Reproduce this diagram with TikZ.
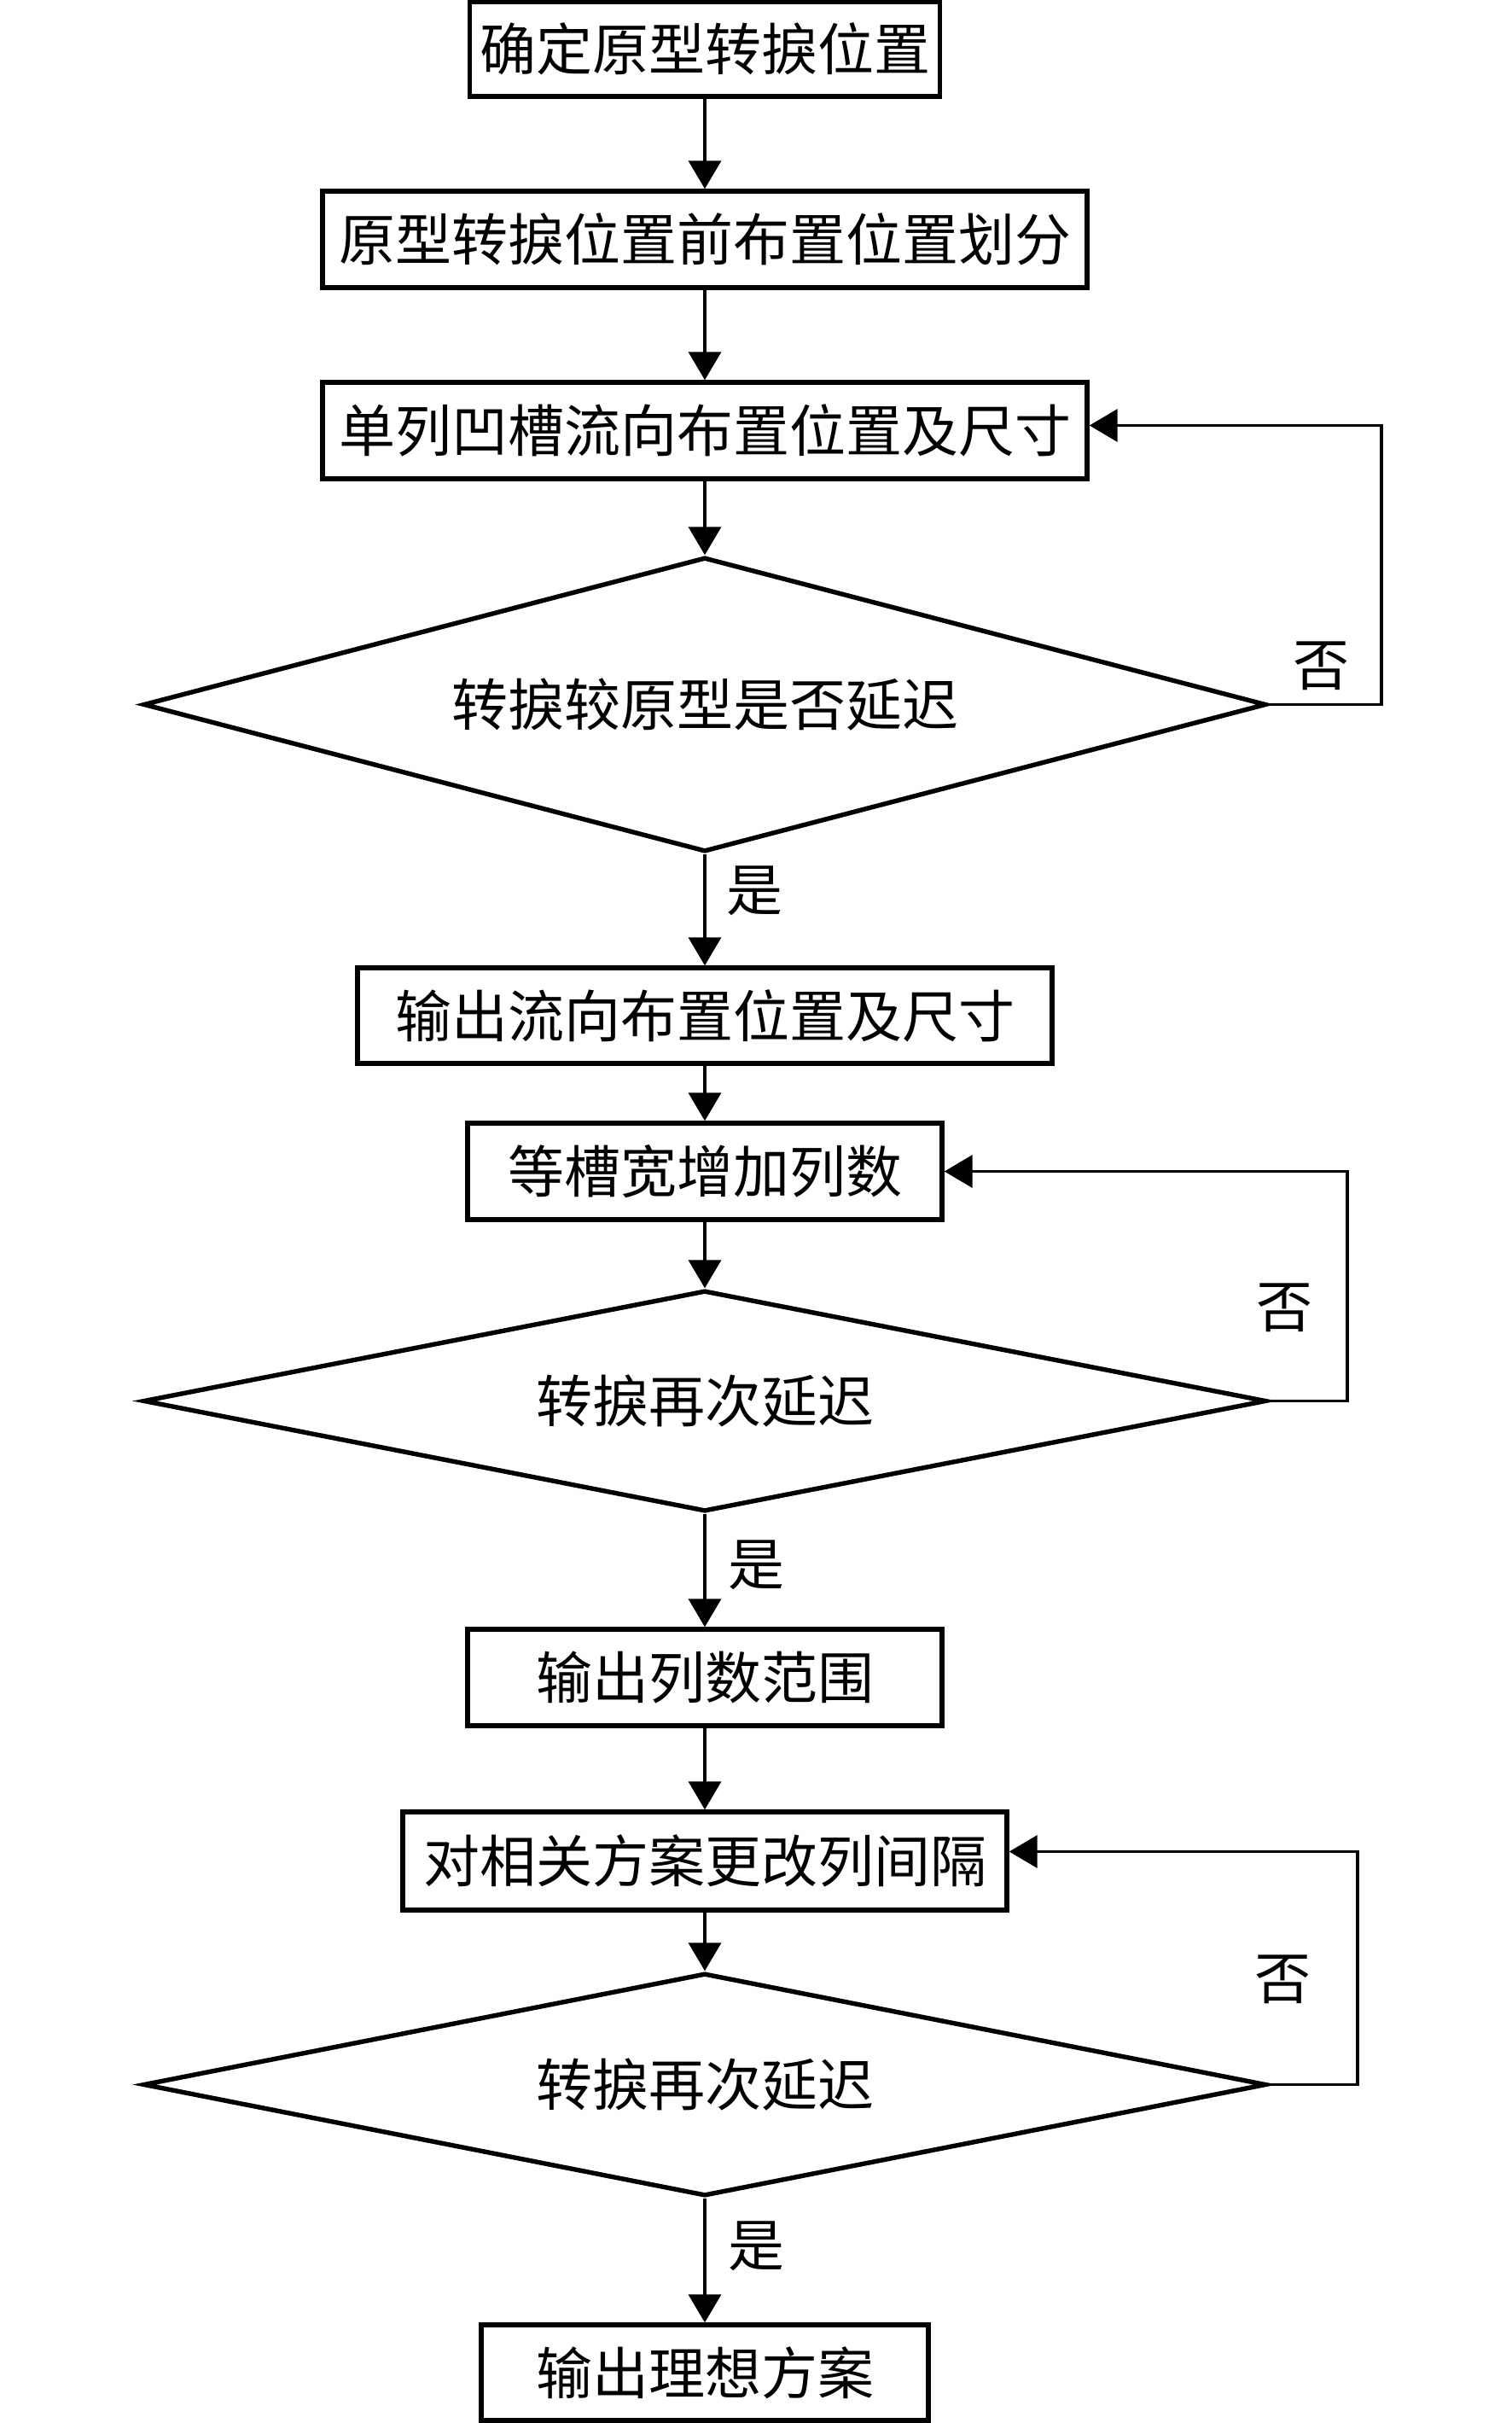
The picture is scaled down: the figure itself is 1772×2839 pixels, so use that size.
\documentclass[tikz,border=0pt]{standalone}
\usepackage{fontspec}
\newfontfamily\cjkfont{Noto Sans CJK SC}
\usetikzlibrary{arrows.meta,shapes.geometric}
\begin{document}
\begin{tikzpicture}[x=0.5pt,y=-0.5pt,
  txt/.style={font=\cjkfont\fontsize{33pt}{38pt}\selectfont},
  box/.style={txt,draw,line width=2.7pt,rectangle,inner sep=0pt},
  dia/.style={txt,draw,line width=2.7pt,diamond,inner sep=0pt,minimum width=658pt},
  arr/.style={line width=1.8pt,-{Triangle[length=16.5pt,width=19pt]}},
  lab/.style={txt,inner sep=0pt}]
\useasboundingbox[fill=white] (0,0) rectangle (1772,2839);
\node[box,minimum width=275.5pt,minimum height=55.5pt] (b1) at (826,57.5) {确定原型转捩位置};
\node[box,minimum width=448pt,minimum height=56.5pt] (b2) at (826,280.5) {原型转捩位置前布置位置划分};
\node[box,minimum width=448pt,minimum height=56.5pt] (b3) at (826,504.5) {单列凹槽流向布置位置及尺寸};
\node[dia,aspect=3.81,minimum height=172.5pt] (d1) at (826,825.5) {转捩较原型是否延迟};
\node[box,minimum width=407pt,minimum height=56pt] (b4) at (826,1190) {输出流向布置位置及尺寸};
\node[box,minimum width=278pt,minimum height=56.5pt] (b5) at (826,1372.5) {等槽宽增加列数};
\node[dia,aspect=5.08,minimum height=129.5pt] (d2) at (826,1641.5) {转捩再次延迟};
\node[box,minimum width=278pt,minimum height=56.5pt] (b6) at (826,1965.5) {输出列数范围};
\node[box,minimum width=354pt,minimum height=57.5pt] (b7) at (826,2180.5) {对相关方案更改列间隔};
\node[dia,aspect=5.04,minimum height=130.5pt] (d3) at (826,2442.5) {转捩再次延迟};
\node[box,minimum width=262pt,minimum height=56pt] (b8) at (826,2780) {输出理想方案};

\draw[arr] (b1.south) -- (b2.north);
\draw[arr] (b2.south) -- (b3.north);
\draw[arr] (b3.south) -- (d1.north);
\draw[arr] (d1.south) -- (b4.north);
\draw[arr] (b4.south) -- (b5.north);
\draw[arr] (b5.south) -- (d2.north);
\draw[arr] (d2.south) -- (b6.north);
\draw[arr] (b6.south) -- (b7.north);
\draw[arr] (b7.south) -- (d3.north);
\draw[arr] (d3.south) -- (b8.north);

\draw[arr] (d1.east) -- ++(132,0) |- ([yshift=3pt]b3.east);
\draw[arr] (d2.east) -- ++(92,0) |- (b5.east);
\draw[arr] (d3.east) -- ++(104,0) |- ([yshift=5.5pt]b7.east);

\node[lab] (n1) at (1548,780) {否};
\node[lab] (n2) at (1505,1532) {否};
\node[lab] (n3) at (1503,2319) {否};
\node[lab] (y1) at (884,1044) {是};
\node[lab] (y2) at (886,1834) {是};
\node[lab] (y3) at (886,2632) {是};
\end{tikzpicture}
\end{document}
